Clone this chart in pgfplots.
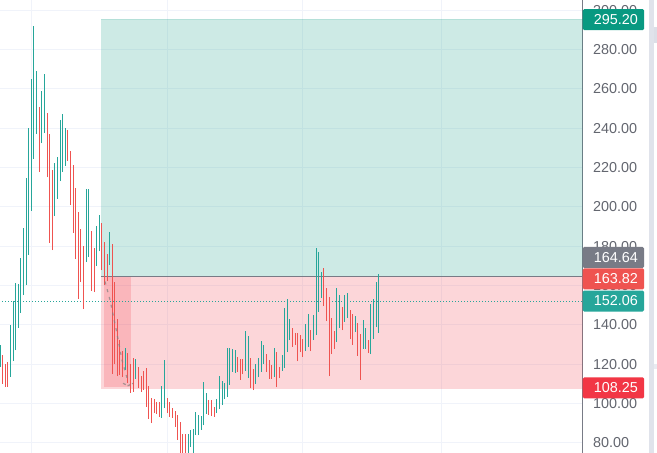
\documentclass[border=0pt]{standalone}
\usepackage{fontspec}
\setmainfont{Liberation Sans}
\usepackage{pgfplots}
\usepackage{pgfplotstable}
\pgfplotsset{compat=1.18}
\definecolor{upc}{HTML}{26A69A}
\definecolor{dnc}{HTML}{EF5350}
\definecolor{gridc}{HTML}{F0F3FA}
\definecolor{axc}{HTML}{787B86}
\definecolor{txc}{HTML}{63666F}
\definecolor{stripc}{HTML}{E0E3EB}
\definecolor{greenc}{HTML}{089981}
\definecolor{redc}{HTML}{F23645}
\pgfplotstableread{
x lo hi
0.3 118.7 129.7
10.3 113.6 139.9
13.3 121.7 152.1
15.3 127.1 161.2
18.3 138.5 160.7
20.3 146.1 173.9
23.3 155.1 189.2
26.3 160.2 214.6
28.3 175.6 240.1
31.3 198.0 265.0
33.3 224.3 292.0
36.3 237.0 269.1
41.3 232.4 258.9
44.3 237.5 267.5
54.3 195.3 222.3
57.3 204.0 225.3
60.3 213.1 244.1
62.3 217.7 247.2
65.3 220.8 240.1
86.3 171.9 209.0
88.3 174.5 209.0
96.7 169.9 190.2
99.3 177.5 195.8
109.3 170.4 187.2
125.3 117.0 128.2
135.3 112.4 122.6
161.3 92.6 108.8
164.3 97.6 122.1
188.3 74 84.4
190.3 77.8 86.5
193.3 74 87.0
195.3 83.9 95.6
198.3 83.9 94.1
201.3 86.5 93.6
203.3 89.0 110.9
206.3 94.6 105.3
216.3 95.1 102.2
219.3 97.1 113.9
222.3 99.2 111.4
224.3 102.2 110.4
227.3 103.2 128.2
229.3 109.4 128.2
232.3 116.0 127.7
235.3 115.5 127.1
245.3 116.5 136.8
248.3 112.9 134.3
255.3 109.9 120.0
258.3 113.4 123.1
261.3 116.0 131.7
263.3 120.0 129.7
274.3 113.4 128.2
282.3 116.5 124.6
284.3 118.0 148.5
287.3 126.1 153.1
289.3 132.2 142.9
305.3 126.6 140.4
308.3 128.7 145.5
313.3 132.2 145.0
316.3 134.8 179.0
318.3 146.5 177.0
321.3 153.6 166.8
336.3 131.2 158.7
339.3 138.4 155.1
344.3 141.4 155.1
347.3 143.4 156.1
355.3 136.3 144.4
363.3 127.7 142.4
365.3 127.7 138.4
370.3 125.1 150.5
373.3 132.7 153.1
376.3 138.8 161.7
378.3 135.8 165.8
}\upbars
\pgfplotstableread{
x lo hi
2.3 109.9 124.6
5.3 108.5 120.0
7.3 108.5 121.0
39.3 217.7 250.8
47.3 215.1 247.7
49.3 181.6 237.0
52.3 178.0 218.7
67.3 223.3 239.1
70.3 200.9 228.4
73.3 186.7 221.2
75.3 173.4 209.6
78.3 153.1 197.3
80.3 161.7 188.7
83.3 148.0 180.1
91.3 157.2 187.7
94.3 156.6 179.0
101.3 167.8 191.7
104.3 160.2 182.1
107.3 162.3 176.0
112.3 115.0 181.1
114.3 120.0 161.7
117.3 113.9 142.9
119.3 114.4 132.2
122.3 113.4 126.6
127.3 110.4 125.6
130.3 105.3 120.0
133.3 105.8 123.1
138.3 107.8 118.5
141.3 105.8 113.9
143.3 106.8 116.5
146.3 98.2 118.0
148.3 92.1 108.8
151.3 90.0 102.7
154.3 95.1 102.2
156.3 94.6 100.7
159.3 93.1 100.7
167.3 95.1 102.7
169.3 93.1 100.7
172.3 92.6 97.6
175.3 88.0 96.1
177.3 81.4 94.1
180.3 74 90.5
182.3 74 84.4
185.3 74 84.4
208.3 94.1 101.7
211.3 93.6 101.7
214.3 93.1 98.2
237.3 116.0 123.6
240.3 111.9 122.6
242.3 114.9 122.6
250.3 107.8 123.1
253.3 106.8 117.5
266.3 116.0 125.1
269.3 112.4 122.1
271.3 112.4 119.5
276.3 108.3 126.1
279.3 112.9 118.5
292.3 128.7 138.4
295.3 129.7 135.8
297.3 121.5 135.8
300.3 126.1 134.8
302.3 123.6 132.7
310.3 126.6 137.3
323.3 149.5 168.9
326.3 141.9 158.7
329.3 113.9 154.1
331.3 125.1 143.4
334.3 127.7 136.8
342.3 137.3 149.0
350.3 132.7 147.5
352.3 129.7 145.5
357.3 124.1 140.9
360.3 111.9 135.3
368.3 125.6 132.2
}\dnbars
\tikzset{tag/.style={anchor=west,rounded corners=1.5pt,minimum width=61.5pt,minimum height=21pt,inner sep=0pt,text=white,font=\fontsize{14.4}{16}\selectfont}}
\begin{document}
\begin{tikzpicture}[x=1pt,y=1pt]
\useasboundingbox (0,0) rectangle (657,453);
\clip (0,0) rectangle (657,453);
\fill[white] (0,0) rectangle (657,453);
\fill[stripc] (649,0) rectangle (654,453);
\fill[stripc!85!black!12!stripc] (654,410) rectangle (657,426);
\fill[stripc!70!white] (654,84) rectangle (657,89);
\begin{axis}[
  at={(0,0)},anchor=south west,scale only axis,width=582.5pt,height=453pt,
  xmin=0,xmax=582.5,ymin=74.76,ymax=305.18,
  axis y line=right,axis x line=bottom,
  x axis line style={draw=none,-},
  y axis line style={draw=axc,line width=1pt,-},
  xtick={31.5,167.5,302.5,441.5},xticklabels={},
  ytick={80,100,...,300},
  major tick length=0pt,
  grid=major,major grid style={draw=gridc,line width=1pt},
  yticklabel style={anchor=west,inner xsep=0pt,xshift=10.5pt,text=txc,font=\fontsize{14.4}{16}\selectfont},
  /pgf/number format/.cd,fixed,fixed zerofill,precision=2,1000 sep={},assume math mode=true,
]
\addplot[draw=none,fill=greenc,fill opacity=.2] coordinates {(101,164.64)(582.5,164.64)(582.5,295.2)(101,295.2)} -- cycle;
\addplot[draw=none,fill=redc,fill opacity=.2] coordinates {(101,107.4)(582.5,107.4)(582.5,164.64)(101,164.64)} -- cycle;
\addplot[draw=none,fill=redc,fill opacity=.2] coordinates {(104,108.1)(131,108.1)(131,164.64)(104,164.64)} -- cycle;
\addplot[draw=greenc,draw opacity=.3,line width=1pt] coordinates {(101,295.2)(582.5,295.2)};
\addplot[draw=axc,line width=1pt] coordinates {(101,164.64)(582.5,164.64)};
\addplot[draw=upc,line width=1pt,dash pattern=on 1.2pt off 1.8pt] coordinates {(2,152.06)(582.5,152.06)};
\addplot[draw=none,mark=none,error bars/.cd,y dir=plus,y explicit,error mark=none,error bar style={draw=upc,line width=1.4pt}] table[x=x,y=lo,y error expr=\thisrow{hi}-\thisrow{lo}] {\upbars};
\addplot[draw=none,mark=none,error bars/.cd,y dir=plus,y explicit,error mark=none,error bar style={draw=dnc,line width=1.4pt}] table[x=x,y=lo,y error expr=\thisrow{hi}-\thisrow{lo}] {\dnbars};
\addplot[draw=gray,draw opacity=.7,line width=1.2pt,dash pattern=on 3pt off 5pt] coordinates {(105,162.0)(110,152.6)(116.7,136.3)(122,122.0)(127,113.0)};
\addplot[draw=gray,draw opacity=.7,line width=1.2pt,dash pattern=on 3pt off 2pt] coordinates {(123,110.2)(128,109.0)(133,110.2)};
\coordinate (t1) at (axis cs:582.5,295.2);
\coordinate (t2) at (axis cs:582.5,164.64);
\coordinate (t3) at (axis cs:582.5,163.82);
\coordinate (t4) at (axis cs:582.5,152.06);
\coordinate (t5) at (axis cs:582.5,108.25);
\end{axis}
\node[tag,fill=greenc] at (t1) {\hspace{5pt}295.20};
\node[tag,fill=axc] at ([yshift=18.8pt]t2) {\hspace{5pt}164.64};
\node[tag,fill=dnc] at ([yshift=-1pt]t3) {\hspace{5pt}163.82};
\node[tag,fill=upc] at (t4) {\hspace{5pt}152.06};
\node[tag,fill=redc] at ([yshift=-0.7pt]t5) {\hspace{5pt}108.25};
\end{tikzpicture}
\end{document}
